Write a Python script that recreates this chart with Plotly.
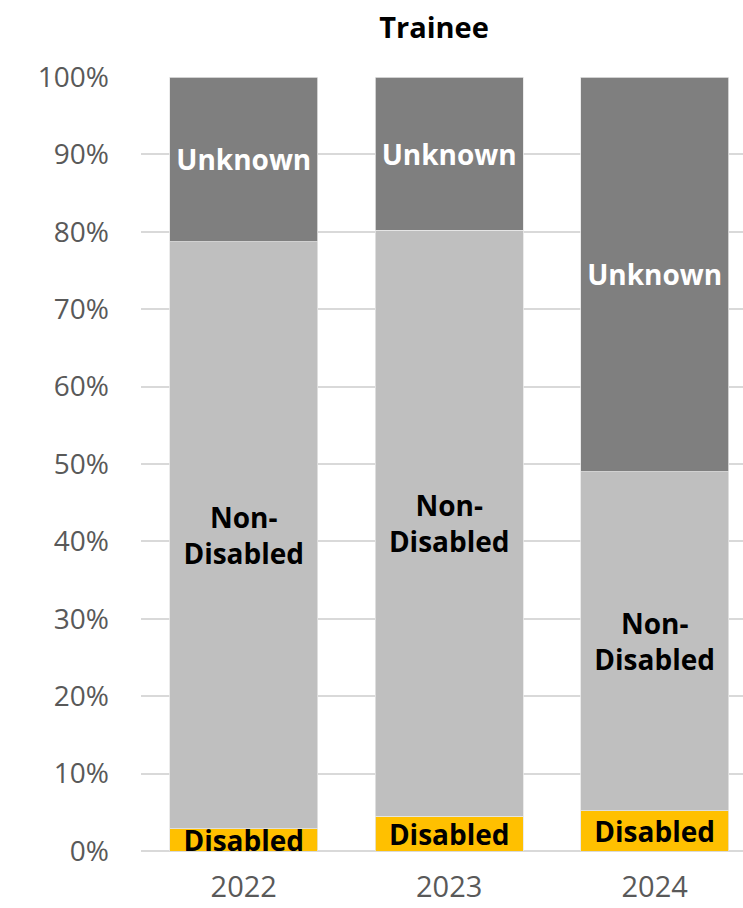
import plotly.graph_objects as go

years = ["2022", "2023", "2024"]
disabled = [2.9, 4.5, 5.2]
non_disabled = [75.8, 75.7, 43.8]
unknown = [21.3, 19.8, 51.0]
series_names = ["Disabled", "Non-Disabled", "Unknown"]
series_labels = ["Disabled", "Non-<br>Disabled", "Unknown"]
colors = ["#FFC000", "#BFBFBF", "#7F7F7F"]
text_colors = ["#000000", "#000000", "#FFFFFF"]
y_ticks = list(range(0, 101, 10))
y_tick_labels = [f"{v}%" for v in y_ticks]

fig = go.Figure()
for name, label, vals, col, tcol in zip(series_names, series_labels,
                                        [disabled, non_disabled, unknown],
                                        colors, text_colors):
    fig.add_trace(go.Bar(
        x=years, y=vals, name=name,
        marker=dict(color=col, line=dict(color="#E6E6E6", width=0.8)),
        text=[label] * len(years),
        texttemplate="%{text}",
        textposition="inside",
        insidetextanchor="middle",
        textangle=0,
        constraintext="none",
        cliponaxis=False,
        textfont=dict(family="Open Sans", size=28, color=tcol, weight="bold"),
        hoverinfo="skip",
    ))

fig.update_layout(
    barmode="stack",
    bargap=0.28,
    width=743, height=908,
    margin=dict(l=141, r=0, t=77, b=57),
    paper_bgcolor="white", plot_bgcolor="white",
    showlegend=False,
    uniformtext=dict(minsize=28, mode="show"),
    title=dict(text="<b>Trainee</b>", x=434 / 743, xref="container", xanchor="center",
               y=1 - 28 / 908, yref="container", yanchor="middle",
               font=dict(family="Open Sans", size=29, color="#000000")),
    font=dict(family="Open Sans"),
)
fig.update_xaxes(
    range=[-0.5, 2.43],
    showgrid=False, zeroline=False, showline=False,
    tickfont=dict(family="Open Sans", size=29, color="#595959"),
    ticklabelstandoff=16,
)
fig.update_yaxes(
    range=[0, 100],
    tickmode="array", tickvals=y_ticks, ticktext=y_tick_labels,
    showgrid=True, gridcolor="#D9D9D9", gridwidth=1.5,
    zeroline=True, zerolinecolor="#D9D9D9", zerolinewidth=2,
    tickfont=dict(family="Open Sans", size=28, color="#595959"),
    ticklabelstandoff=31,
)

fig.write_html("out.html")
